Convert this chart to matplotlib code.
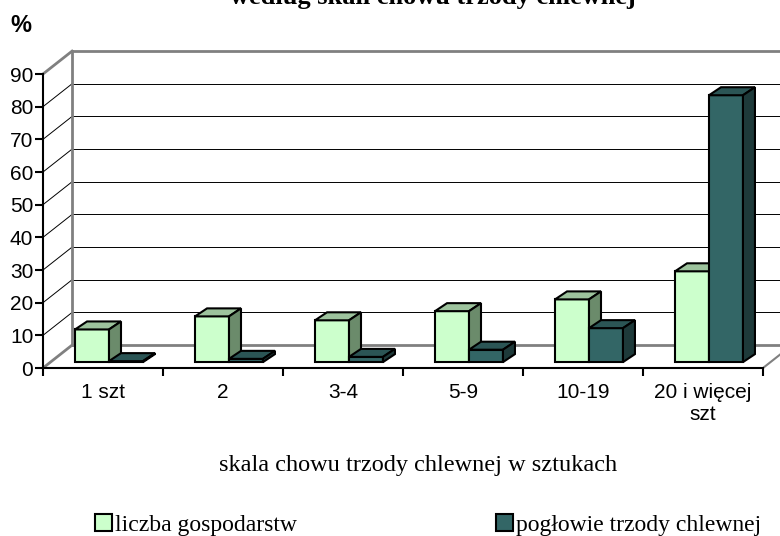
import matplotlib.pyplot as plt
from matplotlib.patches import Polygon, Patch

categories = ['1 szt', '2', '3-4', '5-9', '10-19', '20 i więcej\nszt']
farms = [10.0, 14.0, 12.8, 15.6, 19.2, 27.8]
pigs = [0.3, 1.0, 1.6, 3.8, 10.4, 81.7]
yticks = [0, 10, 20, 30, 40, 50, 60, 70, 80, 90]

c_light, c_light_top, c_light_side = '#CCFFCC', '#9DC39D', '#6B8B6B'
c_dark, c_dark_top, c_dark_side = '#336666', '#2B5555', '#1E3A3A'
wall = '#808080'

# pseudo-3D offsets (data units)
wdx, wdy = 0.242, 7.0     # back wall
bdx, bdy = 0.05, 1.8      # bar base
ddx, ddy = 0.10, 2.45     # bar depth
bw = 0.283

fig = plt.figure(figsize=(7.8, 5.36), dpi=100)
ax = fig.add_axes([43/780, 1 - 368/536, 720/780, 294/536])
ax.set_xlim(0, 6)
ax.set_ylim(0, 90)
n = len(categories)

# walls
for v in yticks:
    edge = v in (0, 90)
    col, lw = (wall, 2) if edge else ('black', 0.7)
    ax.plot([0, wdx], [v, v + wdy], color=col, lw=lw, clip_on=False, zorder=1)
    ax.plot([wdx, n + wdx], [v + wdy, v + wdy], color=col, lw=lw, clip_on=False, zorder=1)
ax.plot([wdx, wdx], [wdy, 90 + wdy], color=wall, lw=2, clip_on=False, zorder=1)
ax.plot([n, n + wdx], [0, wdy], color=wall, lw=1.5, clip_on=False, zorder=1)


def bar3d(xs, vals, front, top, side):
    bars = ax.bar(xs, vals, width=bw, bottom=bdy, align='edge', color=front,
                  edgecolor='black', linewidth=1.5, clip_on=False, zorder=3)
    for b in bars:
        x0, y0 = b.get_x(), b.get_y()
        x1, y1 = x0 + b.get_width(), y0 + b.get_height()
        ax.add_patch(Polygon([(x0, y1), (x1, y1), (x1 + ddx, y1 + ddy), (x0 + ddx, y1 + ddy)],
                             closed=True, fc=top, ec='black', lw=1.5, clip_on=False, zorder=3))
        ax.add_patch(Polygon([(x1, y0), (x1 + ddx, y0 + ddy), (x1 + ddx, y1 + ddy), (x1, y1)],
                             closed=True, fc=side, ec='black', lw=1.5, clip_on=False, zorder=3))


for i in range(n):
    cx = i + 0.5 + bdx
    bar3d([cx - bw], [farms[i]], c_light, c_light_top, c_light_side)
    bar3d([cx], [pigs[i]], c_dark, c_dark_top, c_dark_side)

for s in ['top', 'right']:
    ax.spines[s].set_visible(False)
for s in ['left', 'bottom']:
    ax.spines[s].set_linewidth(1.5)
    ax.spines[s].set_zorder(4)
ax.set_yticks(yticks)
ax.set_xticks(range(n + 1))
ax.set_xticklabels([])
ax.set_xticks([i + 0.5 for i in range(n)], minor=True)
ax.set_xticklabels(categories, minor=True, fontsize=15, family='Liberation Sans')
ax.tick_params(axis='x', which='major', length=6, width=1.5)
ax.tick_params(axis='x', which='minor', length=0, pad=11)
ax.tick_params(axis='y', length=6, width=1.5, pad=1, labelsize=15)
for t in ax.get_yticklabels():
    t.set_family('Liberation Sans')

fig.text(21/780, 1 - 26/536, '%', fontsize=17, fontweight='bold', family='Liberation Sans',
         ha='center', va='center')
fig.text(433/780, 1 - 4/536, 'według skali chowu trzody chlewnej', fontsize=19,
         fontweight='bold', family='Liberation Serif', ha='center', va='baseline')
fig.text(418/780, 1 - 466/536, 'skala chowu trzody chlewnej w sztukach', fontsize=17.5,
         family='Liberation Serif', ha='center', va='center')

handles = [Patch(fc=c_light, ec='black', lw=1.5), Patch(fc=c_dark, ec='black', lw=1.5)]
fig.legend(handles, ['liczba gospodarstw', 'pogłowie trzody chlewnej'], ncol=2,
           loc='center', bbox_to_anchor=(428/780, 1 - 525/536), frameon=False,
           prop={'family': 'Liberation Serif', 'size': 17}, handlelength=0.72,
           handleheight=0.72, handletextpad=0.15, columnspacing=8.4,
           borderaxespad=0, borderpad=0)

fig.savefig('out.png', dpi=100)
